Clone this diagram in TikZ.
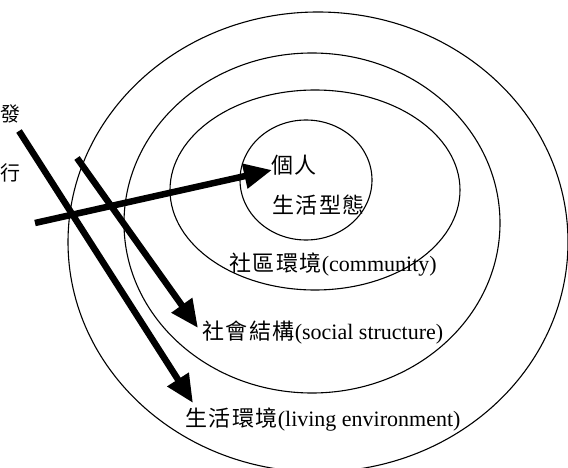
\documentclass[tikz,border=0pt]{standalone}
\usepackage{fontspec}
\setmainfont{Liberation Serif}
\newfontfamily\cjk[LetterSpace=7]{Noto Sans CJK TC}
\usetikzlibrary{arrows.meta}

\begin{document}
\begin{tikzpicture}[x=1pt, y=-1pt,
  ring/.style={line width=1.1pt},
  push/.style={line width=6.5pt, -{Triangle[length=28pt, width=24pt]}},
  lbl/.style={anchor=west, inner sep=0pt, font=\fontsize{22}{24}\selectfont},
  cut/.style={anchor=west, inner sep=0pt, font=\fontsize{20}{22}\selectfont\cjk}]

% Frame
\clip (0,0) rectangle (568,468);
\fill[white] (0,0) rectangle (568,468);

% Rings, outer to inner
\draw[ring] (318,242) ellipse [x radius=250pt, y radius=230pt];
\draw[ring] (312,223) ellipse [x radius=188pt, y radius=170pt];
\draw[ring] (315,190) ellipse [x radius=145pt, y radius=100pt];
\draw[ring] (306,180) ellipse [x radius=66pt, y radius=60pt];

% Text at the left edge
\node[cut] (fa) at (0,114) {發};
\node[cut] (xing) at (0,173) {行};

% Labels
\node[lbl] (person) at (271,165) {\cjk 個人};
\node[lbl] (life) at (272,205) {\cjk 生活型態};
\node[lbl] (comm) at (229,265) {{\cjk 社區環境}(community)};
\node[lbl] (social) at (202,333) {{\cjk 社會結構}(social structure)};
\node[lbl] (living) at (185,420) {{\cjk 生活環境}(living environment)};

% Arrow ends
\coordinate (inA) at (35,223);
\coordinate (tipA) at (272,170);
\coordinate (inB) at (19,131);
\coordinate (tipB) at (193,403);
\coordinate (inC) at (77,158);
\coordinate (tipC) at (198,328);

% Arrows
\draw[push] (inA) -- (tipA);
\draw[push] (inB) -- (tipB);
\draw[push] (inC) -- (tipC);

\end{tikzpicture}
\end{document}
